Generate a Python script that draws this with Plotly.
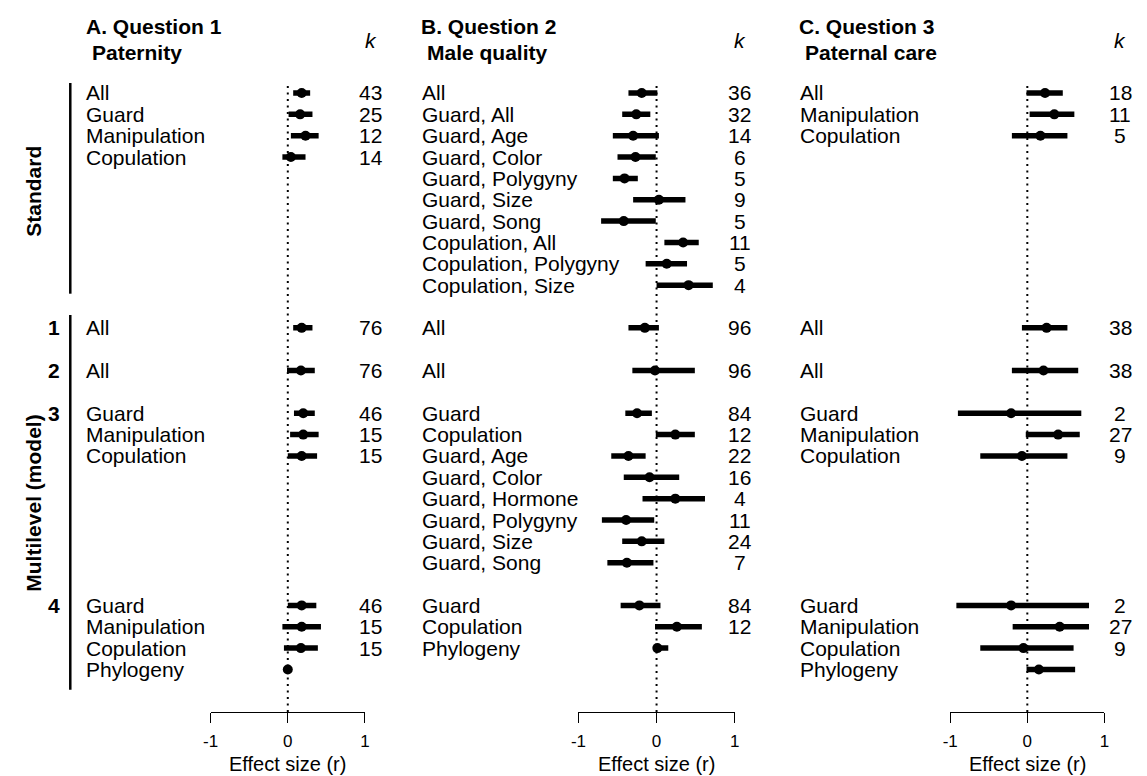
import plotly.graph_objects as go

# ---------------- data ----------------
# Each row: block ("S" = standard meta-analysis, "1".."4" = multilevel model),
# label, point estimate (r), lower/upper CI, number of effect sizes (k).

a_block = ["S", "S", "S", "S", "1", "2", "3", "3", "3", "4", "4", "4", "4"]
a_labels = ["All", "Guard", "Manipulation", "Copulation",
            "All", "All",
            "Guard", "Manipulation", "Copulation",
            "Guard", "Manipulation", "Copulation", "Phylogeny"]
a_est = [0.18, 0.16, 0.23, 0.04, 0.18, 0.17, 0.20, 0.20, 0.18, 0.18, 0.18, 0.17, 0.00]
a_lo = [0.07, 0.01, 0.04, -0.07, 0.07, -0.01, 0.08, 0.03, 0.00, 0.00, -0.07, -0.05, -0.01]
a_hi = [0.29, 0.32, 0.40, 0.23, 0.32, 0.35, 0.35, 0.40, 0.38, 0.37, 0.43, 0.39, 0.02]
a_k = [43, 25, 12, 14, 76, 76, 46, 15, 15, 46, 15, 15, None]

b_block = ["S"] * 10 + ["1", "2"] + ["3"] * 8 + ["4"] * 3
b_labels = ["All", "Guard, All", "Guard, Age", "Guard, Color", "Guard, Polygyny",
            "Guard, Size", "Guard, Song", "Copulation, All", "Copulation, Polygyny",
            "Copulation, Size",
            "All", "All",
            "Guard", "Copulation", "Guard, Age", "Guard, Color", "Guard, Hormone",
            "Guard, Polygyny", "Guard, Size", "Guard, Song",
            "Guard", "Copulation", "Phylogeny"]
b_est = [-0.19, -0.26, -0.30, -0.27, -0.41, 0.03, -0.42, 0.34, 0.13, 0.41,
         -0.15, -0.02,
         -0.25, 0.24, -0.36, -0.09, 0.24, -0.39, -0.19, -0.38,
         -0.22, 0.26, 0.01]
b_lo = [-0.36, -0.44, -0.56, -0.50, -0.56, -0.30, -0.71, 0.10, -0.14, 0.00,
        -0.36, -0.31,
        -0.40, -0.01, -0.58, -0.42, -0.18, -0.70, -0.44, -0.63,
        -0.46, -0.02, 0.00]
b_hi = [0.01, -0.08, 0.03, -0.01, -0.24, 0.37, -0.01, 0.54, 0.39, 0.72,
        0.03, 0.49,
        -0.06, 0.49, -0.14, 0.29, 0.62, -0.03, 0.10, -0.04,
        0.05, 0.58, 0.15]
b_k = [36, 32, 14, 6, 5, 9, 5, 11, 5, 4, 96, 96, 84, 12, 22, 16, 4, 11, 24, 7, 84, 12, None]

c_block = ["S", "S", "S", "1", "2", "3", "3", "3", "4", "4", "4", "4"]
c_labels = ["All", "Manipulation", "Copulation",
            "All", "All",
            "Guard", "Manipulation", "Copulation",
            "Guard", "Manipulation", "Copulation", "Phylogeny"]
c_est = [0.23, 0.35, 0.17, 0.25, 0.21, -0.21, 0.40, -0.07, -0.21, 0.42, -0.05, 0.15]
c_lo = [-0.01, 0.03, -0.20, -0.07, -0.20, -0.90, -0.02, -0.61, -0.92, -0.19, -0.61, -0.01]
c_hi = [0.46, 0.61, 0.52, 0.52, 0.66, 0.70, 0.68, 0.52, 0.80, 0.80, 0.60, 0.62]
c_k = [18, 11, 5, 38, 38, 2, 27, 9, 2, 27, 9, None]

panel_titles = ["A. Question 1", "B. Question 2", "C. Question 3"]
panel_subtitles = ["Paternity", "Male quality", "Paternal care"]
block_order = ["S", "1", "2", "3", "4"]
model_numbers = ["1", "2", "3", "4"]
x_ticks = [-1, 0, 1]
x_title = "Effect size (r)"

# ---------------- layout constants ----------------
W, H = 1147, 776
FONT = "Liberation Sans, Arial, Helvetica, sans-serif"
LABEL_SIZE = 21


def px(x):
    return x / W


def py(y):
    return 1 - y / H


panels = [
    dict(block=a_block, labels=a_labels, est=a_est, lo=a_lo, hi=a_hi, k=a_k,
         dom=(205, 361), label_x=77, k_x=367, title_x=77),
    dict(block=b_block, labels=b_labels, est=b_est, lo=b_lo, hi=b_hi, k=b_k,
         dom=(577, 735), label_x=417, k_x=740, title_x=416),
    dict(block=c_block, labels=c_labels, est=c_est, lo=c_lo, hi=c_hi, k=c_k,
         dom=(953, 1109), label_x=799, k_x=1125, title_x=798),
]

# row layout: blocks aligned across panels, one blank row between blocks
block_size = {b: max(p["block"].count(b) for p in panels) for b in block_order}
block_start = {}
r = 0
for b in block_order:
    block_start[b] = r
    r += block_size[b] + 1

fig = go.Figure()
annotations = []
shapes = []

for i, p in enumerate(panels):
    xa = "x" if i == 0 else f"x{i + 1}"
    rows = []
    seen = {}
    for b in p["block"]:
        rows.append(block_start[b] + seen.get(b, 0))
        seen[b] = seen.get(b, 0) + 1

    # confidence intervals
    xs, ys = [], []
    for lo, hi, row in zip(p["lo"], p["hi"], rows):
        xs += [lo, hi, None]
        ys += [row, row, None]
    fig.add_trace(go.Scatter(x=xs, y=ys, mode="lines", xaxis=xa, yaxis="y",
                             line=dict(color="black", width=5.5),
                             hoverinfo="skip", showlegend=False))
    # point estimates
    fig.add_trace(go.Scatter(x=p["est"], y=rows, mode="markers", xaxis=xa, yaxis="y",
                             marker=dict(color="black", size=10),
                             cliponaxis=False, showlegend=False))

    # zero reference line
    shapes.append(dict(type="line", xref=xa, yref="y domain", x0=0, x1=0, y0=0, y1=1,
                       line=dict(color="black", width=2, dash="2px,4.5px")))

    # row labels and k
    for lab, kk, row in zip(p["labels"], p["k"], rows):
        annotations.append(dict(text=lab, xref="paper", yref="y", x=px(p["label_x"]), y=row,
                                xanchor="left", yanchor="middle", showarrow=False,
                                font=dict(size=LABEL_SIZE, family=FONT, color="black")))
        if kk is not None:
            annotations.append(dict(text=str(kk), xref="paper", yref="y", x=px(p["k_x"]), y=row,
                                    xanchor="center", yanchor="middle", showarrow=False,
                                    font=dict(size=LABEL_SIZE, family=FONT, color="black")))

    # panel headings
    annotations.append(dict(text=f"<b>{panel_titles[i]}</b>", xref="paper", yref="paper",
                            x=px(p["title_x"]), y=py(27), xanchor="left", yanchor="middle",
                            showarrow=False, font=dict(size=21, family=FONT, color="black")))
    annotations.append(dict(text=f"<b>{panel_subtitles[i]}</b>", xref="paper", yref="paper",
                            x=px(p["title_x"] + 6), y=py(53), xanchor="left", yanchor="middle",
                            showarrow=False, font=dict(size=21, family=FONT, color="black")))
    annotations.append(dict(text="<i>k</i>", xref="paper", yref="paper",
                            x=px(p["k_x"]), y=py(40), xanchor="center", yanchor="middle",
                            showarrow=False, font=dict(size=21, family=FONT, color="black")))
    # axis title
    annotations.append(dict(text=x_title, xref=xa, yref="paper", x=0, y=py(764),
                            xanchor="center", yanchor="middle", showarrow=False,
                            font=dict(size=20, family=FONT, color="black")))

# model numbers
for m in model_numbers:
    annotations.append(dict(text=f"<b>{m}</b>", xref="paper", yref="y", x=px(55),
                            y=block_start[m], xanchor="right", yanchor="middle",
                            showarrow=False, font=dict(size=21, family=FONT, color="black")))

# left-hand group labels and brackets
annotations.append(dict(text="<b>Standard</b>", xref="paper", yref="paper", x=px(25), y=py(191),
                        xanchor="center", yanchor="middle", textangle=-90, showarrow=False,
                        font=dict(size=21, family=FONT, color="black")))
annotations.append(dict(text="<b>Multilevel (model)</b>", xref="paper", yref="paper",
                        x=px(25), y=py(503), xanchor="center", yanchor="middle",
                        textangle=-90, showarrow=False,
                        font=dict(size=21, family=FONT, color="black")))
shapes.append(dict(type="line", xref="paper", yref="y", x0=px(63), x1=px(63),
                   y0=block_start["S"] - 0.6, y1=block_start["S"] + block_size["S"] - 0.6,
                   line=dict(color="black", width=2.5)))
shapes.append(dict(type="line", xref="paper", yref="y", x0=px(63), x1=px(63),
                   y0=block_start["1"] - 0.6, y1=block_start["4"] + block_size["4"] - 0.05,
                   line=dict(color="black", width=2.5)))

# row coordinate of the plot's top and bottom edges
ROW_H = 21.35
y_top = (83 - 93) / ROW_H
y_bot = (712 - 93) / ROW_H

axis_style = dict(range=[-1, 1], tickvals=x_ticks, ticktext=[str(t) for t in x_ticks],
                  showline=True, linecolor="black", linewidth=1,
                  ticks="outside", ticklen=10, tickwidth=1, tickcolor="black",
                  showgrid=False, zeroline=False, ticklabelstandoff=4,
                  tickfont=dict(size=17, family=FONT, color="black"), fixedrange=True)

layout = dict(
    width=W, height=H, autosize=False,
    margin=dict(l=0, r=0, t=0, b=0, pad=0),
    paper_bgcolor="white", plot_bgcolor="white",
    showlegend=False,
    annotations=annotations, shapes=shapes,
    yaxis=dict(domain=[py(712), py(83)], range=[y_bot, y_top], visible=False,
               anchor="x", fixedrange=True),
)
for i, p in enumerate(panels):
    key = "xaxis" if i == 0 else f"xaxis{i + 1}"
    layout[key] = dict(domain=[px(p["dom"][0]), px(p["dom"][1])], anchor="y", **axis_style)

fig.update_layout(**layout)
fig.write_html("out.html", config={"displayModeBar": False})
